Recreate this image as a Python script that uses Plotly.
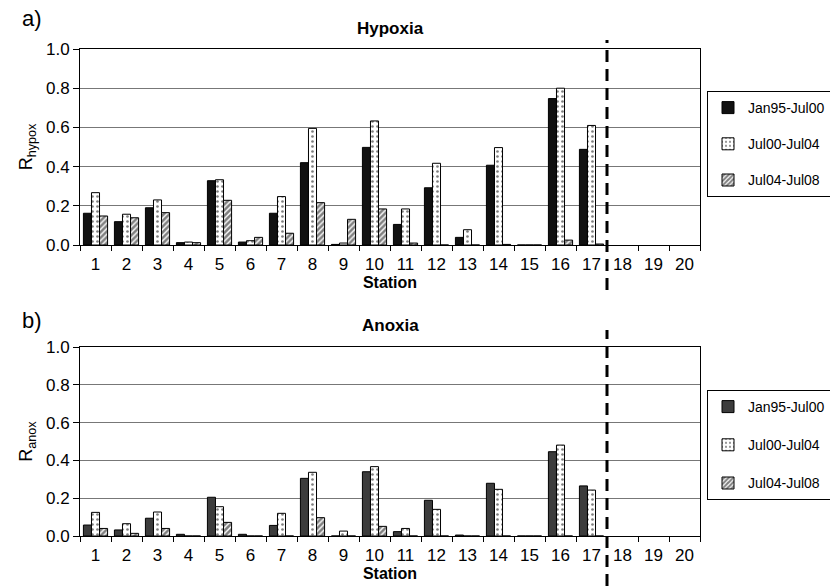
import plotly.graph_objects as go

# ---------------- data ----------------
stations = [str(i) for i in range(1, 21)]
series_names = ["Jan95-Jul00", "Jul00-Jul04", "Jul04-Jul08"]

hyp_jan95_jul00 = [0.162, 0.119, 0.19, 0.012, 0.328, 0.015, 0.162, 0.42, 0.003, 0.498,
                   0.105, 0.292, 0.039, 0.407, 0.0, 0.747, 0.488, None, None, None]
hyp_jul00_jul04 = [0.267, 0.157, 0.23, 0.015, 0.333, 0.022, 0.247, 0.595, 0.01, 0.633,
                   0.184, 0.417, 0.078, 0.497, 0.0, 0.80, 0.61, None, None, None]
hyp_jul04_jul08 = [0.148, 0.139, 0.165, 0.012, 0.228, 0.039, 0.06, 0.216, 0.131, 0.184,
                   0.01, 0.0, 0.0, 0.003, 0.0, 0.025, 0.005, None, None, None]

anox_jan95_jul00 = [0.058, 0.032, 0.094, 0.009, 0.205, 0.009, 0.056, 0.305, 0.0, 0.34,
                    0.023, 0.189, 0.005, 0.279, 0.0, 0.446, 0.265, None, None, None]
anox_jul00_jul04 = [0.125, 0.065, 0.127, 0.0, 0.155, 0.0, 0.12, 0.337, 0.026, 0.367,
                    0.04, 0.141, 0.0, 0.247, 0.0, 0.481, 0.243, None, None, None]
anox_jul04_jul08 = [0.04, 0.014, 0.04, 0.0, 0.072, 0.0, 0.0, 0.097, 0.0, 0.051,
                    0.0, 0.0, 0.0, 0.0, 0.0, 0.0, 0.0, None, None, None]

y_tick_vals = [0.0, 0.2, 0.4, 0.6, 0.8, 1.0]
y_tick_text = ["0.0", "0.2", "0.4", "0.6", "0.8", "1.0"]
split_after_station = "17"

# ---------------- styling ----------------
FONT = "Liberation Sans, Arial, Helvetica, sans-serif"
W, H = 830, 586


def py(px):
    return 1 - px / H


def pxx(px):
    return px / W


def styles(first_color):
    return [
        dict(color=first_color, line=dict(color="black", width=1)),
        dict(color="white", line=dict(color="black", width=1),
             pattern=dict(shape=".", fgcolor="black", bgcolor="white", size=5, solidity=0.22)),
        dict(color="white", line=dict(color="black", width=1),
             pattern=dict(shape="/", fgcolor="black", bgcolor="white", size=4, solidity=0.65)),
    ]


fig = go.Figure()

top_series = [hyp_jan95_jul00, hyp_jul00_jul04, hyp_jul04_jul08]
bot_series = [anox_jan95_jul00, anox_jul00_jul04, anox_jul04_jul08]

for i, (name, vals, mk) in enumerate(zip(series_names, top_series, styles("#111111"))):
    fig.add_trace(go.Bar(x=stations, y=vals, name=name, marker=mk, xaxis="x", yaxis="y",
                         legend="legend", legendgroup="a%d" % i, offsetgroup=str(i)))
for i, (name, vals, mk) in enumerate(zip(series_names, bot_series, styles("#3c3c3c"))):
    fig.add_trace(go.Bar(x=stations, y=vals, name=name, marker=mk, xaxis="x2", yaxis="y2",
                         legend="legend2", legendgroup="b%d" % i, offsetgroup=str(i)))

xdom = [pxx(80), pxx(700)]
top_dom = [py(245), py(49)]
bot_dom = [py(536), py(347)]

xcommon = dict(type="category", categoryorder="array", categoryarray=stations,
               range=[-0.5, len(stations) - 0.5], domain=xdom, automargin=False,
               showline=True, linecolor="black", linewidth=1, mirror=True,
               ticks="outside", tickson="boundaries", ticklen=5, tickcolor="black",
               ticklabelstandoff=4,
               tickfont=dict(family=FONT, size=17, color="black"), showgrid=False,
               title=dict(text="<b>Station</b>", font=dict(family=FONT, size=16, color="black"),
                          standoff=1))
ycommon = dict(range=[0, 1.0], tickvals=y_tick_vals, ticktext=y_tick_text, automargin=False,
               showline=True, linecolor="black", linewidth=1, mirror=True,
               ticks="outside", ticklen=6, tickcolor="black",
               tickfont=dict(family=FONT, size=17, color="black"),
               showgrid=True, gridcolor="#777777", gridwidth=1, zeroline=False)

fig.update_layout(
    width=W, height=H,
    margin=dict(l=0, r=0, t=0, b=0, autoexpand=False),
    paper_bgcolor="white", plot_bgcolor="white",
    barmode="group", bargap=0.22, bargroupgap=0,
    font=dict(family=FONT, color="black"),
    xaxis=dict(xcommon, anchor="y"),
    yaxis=dict(ycommon, domain=top_dom, anchor="x",
               title=dict(text="R<sub>hypox</sub>", font=dict(family=FONT, size=18), standoff=8)),
    xaxis2=dict(xcommon, anchor="y2"),
    yaxis2=dict(ycommon, domain=bot_dom, anchor="x2",
                title=dict(text="R<sub>anox</sub>", font=dict(family=FONT, size=18), standoff=8)),
    legend=dict(x=pxx(707), y=py(91), xanchor="left", yanchor="top",
                bordercolor="black", borderwidth=1, bgcolor="white",
                font=dict(family=FONT, size=14), traceorder="grouped", tracegroupgap=15),
    legend2=dict(x=pxx(707), y=py(390), xanchor="left", yanchor="top",
                 bordercolor="black", borderwidth=1, bgcolor="white",
                 font=dict(family=FONT, size=14), traceorder="grouped", tracegroupgap=17),
)

split_x = stations.index(split_after_station) + 0.5
fig.add_shape(type="line", xref="x", yref="paper", x0=split_x, x1=split_x,
              y0=py(290), y1=py(40), line=dict(color="black", width=3, dash="12px,7px"))
fig.add_shape(type="line", xref="x2", yref="paper", x0=split_x, x1=split_x,
              y0=py(586), y1=py(330), line=dict(color="black", width=3, dash="12px,7px"))

ann = [
    dict(text="a)", x=pxx(20), y=py(18), size=22, xanchor="left"),
    dict(text="b)", x=pxx(20), y=py(320), size=22, xanchor="left"),
    dict(text="<b>Hypoxia</b>", x=pxx(390), y=py(28), size=17, xanchor="center"),
    dict(text="<b>Anoxia</b>", x=pxx(390), y=py(325), size=17, xanchor="center"),
]
for a in ann:
    fig.add_annotation(text=a["text"], x=a["x"], y=a["y"], xref="paper", yref="paper",
                       xanchor=a["xanchor"], yanchor="middle", showarrow=False,
                       font=dict(family=FONT, size=a["size"], color="black"))

fig.write_html("out.html")
